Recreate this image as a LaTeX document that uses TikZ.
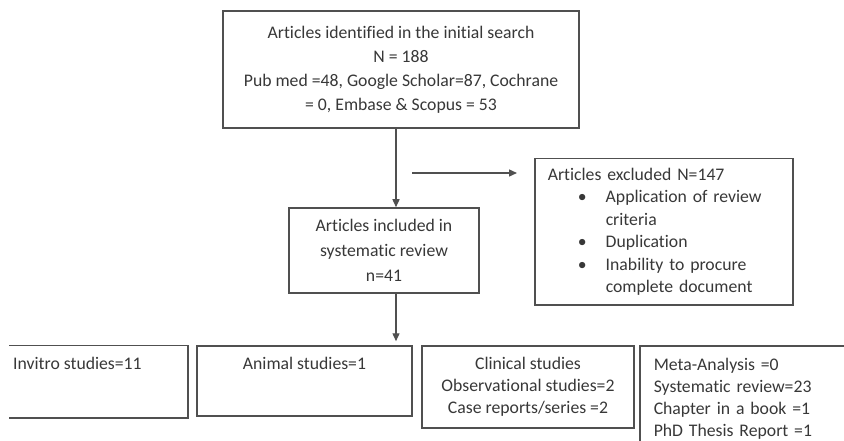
\documentclass[tikz,border=0pt]{standalone}
\usepackage{fontspec}
\setmainfont{Carlito}[Ligatures=NoCommon]
\usetikzlibrary{arrows.meta}
\definecolor{ln}{HTML}{505050}
\definecolor{tx}{HTML}{383838}
\begin{document}
\begin{tikzpicture}[x=1pt,y=-1pt,
  box/.style={draw=ln, line width=1.5pt, rectangle, inner sep=0pt, text=tx,
    font=\fontsize{17.7}{22.5}\selectfont},
  txt/.style={inner sep=0pt, text=tx, font=\fontsize{17.7}{22.5}\selectfont},
  arr/.style={draw=ln, line width=1.4pt, -{Triangle[length=8pt,width=7pt]}},
  edgeline/.style={draw=ln, line width=1.5pt},
]
\useasboundingbox[fill=white] (0,0) rectangle (844,441);
\coordinate (pgR) at (844,441);
\coordinate (ax) at (396,0);

% top box
\node[box, minimum width=356pt, minimum height=117pt, align=center,
  font=\fontsize{17.7}{24}\selectfont] (b1) at (401,69.5)
  {Articles identified in the initial search\\N = 188\\Pub med =48, Google Scholar=87, Cochrane\\= 0, Embase \& Scopus = 53};

% included box
\node[box, minimum width=190pt, minimum height=85pt, align=center,
  font=\fontsize{17.7}{25}\selectfont] (b2) at (384,250.5)
  {Articles included in\\systematic review\\n=41};

% excluded box
\node[box, anchor=north west, minimum width=258pt, minimum height=146pt,
  text width=232pt, align=left] (ex) at (534,158)
  {Articles excluded N=147\\
   \hspace*{30pt}\makebox[28pt][l]{\textbullet}Application of review\\
   \hspace*{58pt}criteria\\
   \hspace*{30pt}\makebox[28pt][l]{\textbullet}Duplication\\
   \hspace*{30pt}\makebox[28pt][l]{\textbullet}Inability to procure\\
   \hspace*{58pt}complete document};

% bottom boxes
\node[box, draw=none, minimum width=177pt, minimum height=71pt] (inv) at (98.5,381.5) {};
\draw[edgeline] (inv.north west) -- (inv.north east) -- (inv.south east) -- (inv.south west);
\node[txt, anchor=base west] (invt) at (13,369.5) {Invitro studies=11};

\node[box, minimum width=215pt, minimum height=70pt] (an) at (304.5,381) {};
\node[txt, anchor=base] (ant) at (304.5,369.5) {Animal studies=1};

\node[box, minimum width=212pt, minimum height=82pt, align=center,
  font=\fontsize{17.7}{22}\selectfont] (cl) at (528,387)
  {Clinical studies\\Observational studies=2\\Case reports/series =2};

\node[box, draw=none, anchor=north west, minimum width=210pt, minimum height=104pt,
  text width=184pt, align=left, font=\fontsize{17.7}{22}\selectfont] (meta) at (640,346)
  {Meta-Analysis =0\\Systematic review=23\\Chapter in a book =1\\PhD Thesis Report =1};
\draw[edgeline] (meta.west |- pgR) -- (meta.north west) -- (meta.north -| pgR);

% arrows
\draw[arr] (b1.south -| ax) -- (b2.north -| ax);
\draw[arr, shorten >=4pt] (b2.south -| ax) -- (an.north -| ax);
\coordinate (h1) at (412,173);
\coordinate (h2) at (517,173);
\draw[arr] (h1) -- (h2);
\end{tikzpicture}
\end{document}
